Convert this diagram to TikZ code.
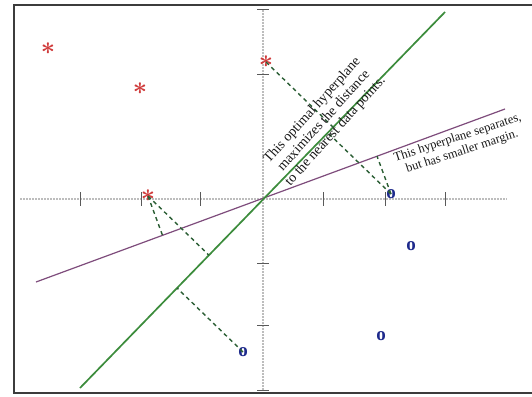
\documentclass[tikz,border=0pt]{standalone}
\usepackage{fontspec}
\setmainfont{Liberation Serif}
\usetikzlibrary{calc}
\definecolor{gline}{HTML}{3C8C3C}
\definecolor{pline}{HTML}{7E4C7C}
\definecolor{dline}{HTML}{2B5E34}
\definecolor{axisgray}{HTML}{BDBDBD}
\definecolor{starred}{HTML}{D03A3A}
\definecolor{oblue}{HTML}{1E2A8C}
\definecolor{framegray}{HTML}{3C3C3C}
\begin{document}
\begin{tikzpicture}[x=1pt,y=-1pt,
  axisline/.style={axisgray, line width=1.3pt, dash pattern=on 2pt off 1pt},
  tickmark/.style={black!65, line width=1pt},
  hyper/.style={gline, line width=1.7pt},
  weakhyper/.style={pline, line width=1.2pt},
  margin/.style={dline, line width=1.4pt, dash pattern=on 4pt off 3.5pt},
  starpt/.style={text=starred, font=\fontsize{26}{26}\selectfont\boldmath, inner sep=0pt},
  circpt/.style={text=oblue, font=\fontsize{19}{19}\selectfont\bfseries, inner sep=0pt},
  notetext/.style={align=center, inner sep=0pt, text=black!90}]
\fill[white] (0,0) rectangle (532,396);
\useasboundingbox (0,0) rectangle (532,396);
% frame
\draw[framegray, line width=2.2pt] (533,5) -- (14,5) -- (14,393) -- (533,393);
% axes
\coordinate (xl) at (20,199);
\coordinate (xr) at (507,199);
\coordinate (yt) at (263,10);
\coordinate (yb) at (263,390);
\draw[axisline] (xl) -- (xr);
\draw[axisline] (yt) -- (yb);
\foreach \tx in {80,141,200,323,385,445}
  \draw[tickmark] (\tx,192) -- (\tx,206);
\foreach \ty in {10,74,263,325,390}
  \draw[tickmark] (257,\ty) -- (269,\ty);
% hyperplanes
\coordinate (g1) at (80,388);
\coordinate (g2) at (445,12);
\coordinate (p1) at (36,282);
\coordinate (p2) at (505,109);
\draw[weakhyper] (p1) -- (p2);
\draw[hyper] (g1) -- (g2);
% data points
\node[starpt] (s1) at (48,49) {$\ast$};
\node[starpt] (s2) at (140,89) {$\ast$};
\node[starpt] (s3) at (266,62) {$\ast$};
\node[starpt] (s4) at (148,196) {$\ast$};
\node[circpt] (o1) at (391,194) {o};
\node[circpt] (o2) at (411,246) {o};
\node[circpt] (o3) at (381,336) {o};
\node[circpt] (o4) at (243,352) {o};
% margin feet
\coordinate (fs3) at ($(g1)!(s3)!(g2)$);
\coordinate (fo1) at ($(g1)!(o1)!(g2)$);
\coordinate (fs4) at ($(g1)!(s4)!(g2)$);
\coordinate (fo4) at ($(g1)!(o4)!(g2)$);
\coordinate (ps4) at ($(p1)!(s4)!(p2)$);
\coordinate (po1) at ($(p1)!(o1)!(p2)$);
\draw[margin] (s3.center) -- (fs3);
\draw[margin] (o1.center) -- (fo1);
\draw[margin] (s4.center) -- (fs4);
\draw[margin] (o4.center) -- (fo4);
\draw[margin] (s4.center) -- (ps4);
\draw[margin] (o1.center) -- (po1);
% notes
\node[notetext, rotate=48, font=\fontsize{14}{15.5}\selectfont] (n1) at (324,121)
  {This optimal hyperplane\\maximizes the distance\\to the nearest data points.};
\node[notetext, rotate=18, font=\fontsize{12.5}{14.5}\selectfont] (n2) at (460,145)
  {This hyperplane separates,\\but has smaller margin.};
\end{tikzpicture}
\end{document}
